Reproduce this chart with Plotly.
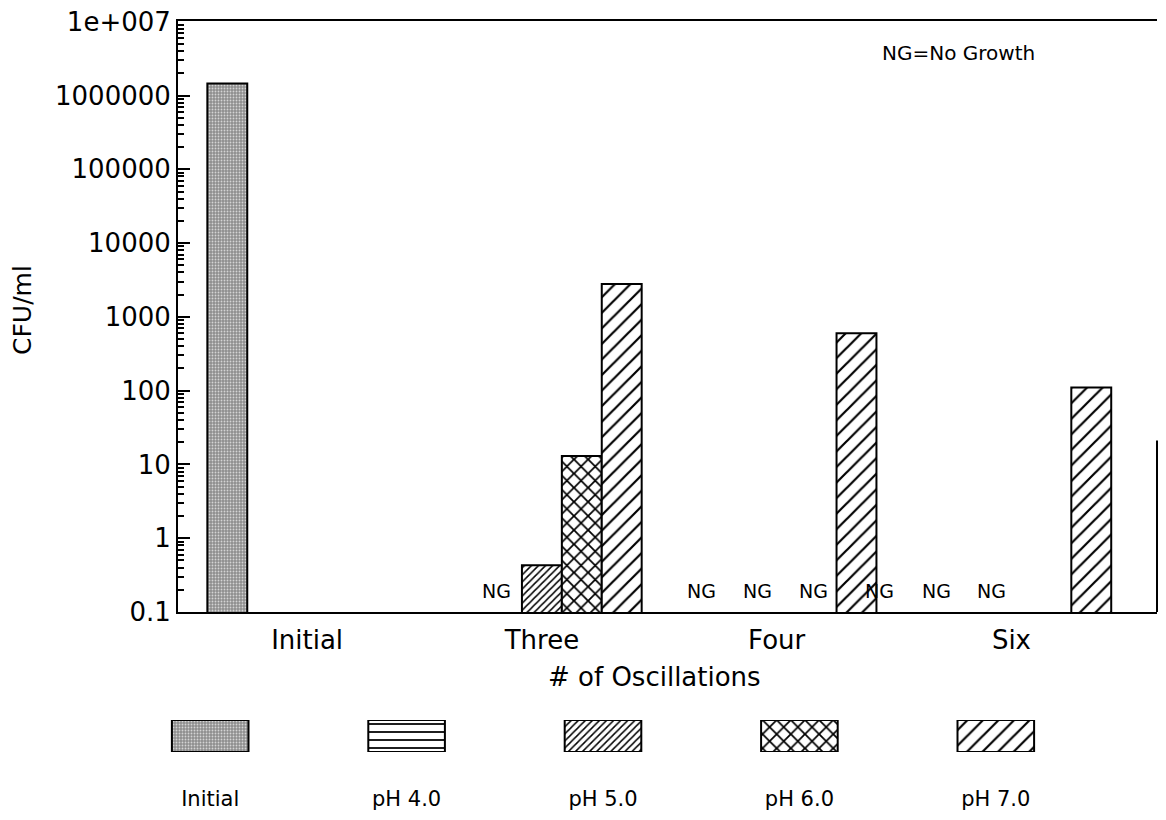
import plotly.graph_objects as go

categories = ["Initial", "Three", "Four", "Six"]
series_names = ["Initial", "pH 4.0", "pH 5.0", "pH 6.0", "pH 7.0"]
initial_vals = [1.45e6, None, None, None]
ph4_vals = [None, None, None, None]
ph5_vals = [None, 0.43, None, None]
ph6_vals = [None, 13, None, None]
ph7_vals = [None, 2800, 600, 110]

y_tickvals = [0.1, 1, 10, 100, 1000, 10000, 100000, 1000000, 10000000]
y_ticktext = ["0.1", "1", "10", "100", "1000", "10000", "100000", "1000000", "1e+007"]

all_series = [initial_vals, ph4_vals, ph5_vals, ph6_vals, ph7_vals]

FONT = "DejaVu Sans"

# the page body adds an 8px margin, so the figure is a bit smaller than the window
W, H, OFF = 1150, 804, 8


def px(x):
    return (x - OFF) / W


def py(y):
    return 1 - (y - OFF) / H


# fill pattern for each series
patterns = [
    dict(shape=".", fgcolor="#d4d4d4", bgcolor="#8e8e8e", size=3, solidity=0.3, fillmode="replace"),
    dict(shape="-", fgcolor="black", bgcolor="white", size=8, solidity=0.22, fillmode="replace"),
    dict(shape="/", fgcolor="black", bgcolor="white", size=5, solidity=0.3, fillmode="replace"),
    dict(shape="x", fgcolor="black", bgcolor="white", size=10, solidity=0.32, fillmode="replace"),
    dict(shape="/", fgcolor="black", bgcolor="white", size=11, solidity=0.2, fillmode="replace"),
]

fig = go.Figure()

for name, vals, pat in zip(series_names, all_series, patterns):
    fig.add_trace(go.Bar(
        x=categories,
        y=vals,
        name=name,
        marker=dict(color="white", pattern=pat, line=dict(color="black", width=2)),
        showlegend=False,
        xaxis="x", yaxis="y",
    ))

# legend row: one swatch per series with its name underneath
for name, pat in zip(series_names, patterns):
    fig.add_trace(go.Bar(
        x=[name],
        y=[1],
        name=name,
        width=0.39,
        offsetgroup="legend",
        marker=dict(color="white", pattern=pat, line=dict(color="black", width=2)),
        showlegend=False,
        xaxis="x2", yaxis="y2",
    ))

# NG labels where a pH series has no value
ng_xshift = {"Three": [-45], "Four": [-75, -19, 37], "Six": [-132, -75, -20]}
annotations = []
for ci, cat in enumerate(categories):
    if cat == "Initial":
        continue
    n_missing = sum(1 for vals in all_series[1:] if vals[ci] is None)
    for k in range(n_missing):
        annotations.append(dict(
            x=cat, xref="x", y=0, yref="y domain",
            xanchor="center", yanchor="bottom",
            xshift=ng_xshift[cat][k], yshift=8,
            text="NG", showarrow=False,
            font=dict(family=FONT, size=19, color="black"),
        ))

annotations += [
    dict(x=px(22), y=py(310), xref="paper", yref="paper", text="CFU/ml",
         xanchor="center", yanchor="middle",
         textangle=-90, showarrow=False, font=dict(family=FONT, size=25, color="black")),
    dict(x=px(655), y=py(677), xref="paper", yref="paper", text="# of Oscillations",
         xanchor="center", yanchor="middle",
         showarrow=False, font=dict(family=FONT, size=26, color="black")),
    dict(x=px(958), y=py(53), xref="paper", yref="paper", text="NG=No Growth",
         xanchor="center", yanchor="middle",
         showarrow=False, font=dict(family=FONT, size=20, color="black")),
]

minor_vals = [m * 10 ** e for e in range(-1, 7) for m in range(2, 10)]

fig.update_layout(
    width=W,
    height=H,
    margin=dict(l=0, r=0, t=0, b=0, autoexpand=False),
    paper_bgcolor="white",
    plot_bgcolor="white",
    barmode="group",
    bargap=0.15,
    bargroupgap=0,
    font=dict(family=FONT, color="black"),
    xaxis=dict(
        domain=[px(178), px(1157)],
        type="category",
        range=[-0.55, 3.62],
        showline=True, linecolor="black", linewidth=2,
        mirror=True,
        ticks="", showgrid=False,
        tickfont=dict(family=FONT, size=26),
        ticklabelstandoff=4,
        automargin=False,
    ),
    yaxis=dict(
        domain=[py(612), py(21)],
        type="log",
        range=[-1, 7.01],
        tickvals=y_tickvals,
        ticktext=y_ticktext,
        ticks="inside", ticklen=12, tickwidth=2, tickcolor="black",
        minor=dict(tickvals=minor_vals, ticks="inside", ticklen=6, tickwidth=1.5,
                   tickcolor="black", showgrid=False),
        showline=True, linecolor="black", linewidth=2,
        showgrid=False, zeroline=False,
        tickfont=dict(family=FONT, size=26),
        ticklabelstandoff=0,
        ticklabeloverflow="allow",
        automargin=False,
    ),
    xaxis2=dict(
        domain=[px(112), px(1094)],
        anchor="y2",
        type="category",
        showline=False, ticks="", showgrid=False,
        tickfont=dict(family=FONT, size=21),
        ticklabelstandoff=32,
        automargin=False,
    ),
    yaxis2=dict(
        domain=[py(752), py(720)],
        anchor="x2",
        range=[0, 1],
        visible=False,
    ),
    annotations=annotations,
    shapes=[dict(type="line", xref="x domain", yref="y domain", x0=1, x1=1, y0=0, y1=0.29,
                 line=dict(color="black", width=2))],
)

fig.write_html("out.html")
